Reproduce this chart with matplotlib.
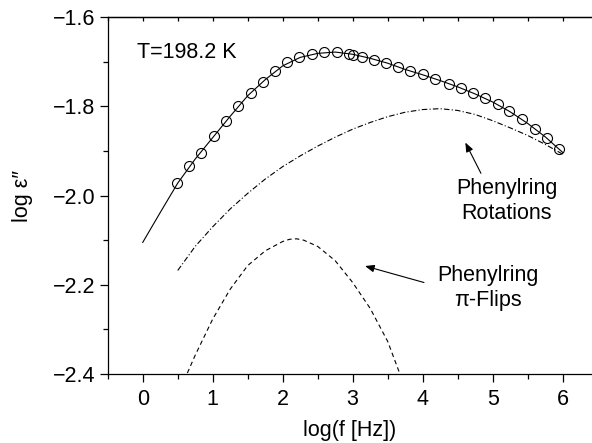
import matplotlib.pyplot as plt
from matplotlib.ticker import MultipleLocator

plt.rcParams['font.family'] = ['Liberation Sans', 'DejaVu Sans']

# measured points
logf_data = [0.486, 0.661, 0.834, 1.019, 1.186, 1.366, 1.543, 1.719, 1.890, 2.066,
             2.235, 2.419, 2.594, 2.776, 2.951, 3.000, 3.128, 3.309, 3.480, 3.652,
             3.823, 4.004, 4.180, 4.371, 4.543, 4.714, 4.894, 5.071, 5.237, 5.419,
             5.604, 5.771, 5.951]
eps_data = [-1.972, -1.933, -1.905, -1.867, -1.832, -1.799, -1.769, -1.746, -1.721, -1.701,
            -1.688, -1.682, -1.679, -1.679, -1.683, -1.685, -1.689, -1.695, -1.703, -1.712,
            -1.721, -1.728, -1.739, -1.749, -1.758, -1.770, -1.782, -1.795, -1.811, -1.828,
            -1.851, -1.871, -1.895]

# total fit
logf_fit = [0.0, 0.25, 0.5, 0.75, 1.0, 1.25, 1.5, 1.75, 2.0, 2.25, 2.5, 2.75, 3.0,
            3.25, 3.5, 3.75, 4.0, 4.25, 4.5, 4.75, 5.0, 5.25, 5.5, 5.75, 6.0]
eps_fit = [-2.105, -2.038, -1.972, -1.918, -1.870, -1.822, -1.776, -1.740, -1.709, -1.690,
           -1.681, -1.678, -1.683, -1.692, -1.703, -1.717, -1.729, -1.742, -1.756, -1.772,
           -1.790, -1.812, -1.838, -1.868, -1.903]

# phenylring rotations
logf_rot = [0.5, 0.75, 1.0, 1.25, 1.5, 1.75, 2.0, 2.25, 2.5, 2.75, 3.0, 3.25, 3.5,
            3.75, 4.0, 4.25, 4.5, 4.75, 5.0, 5.25, 5.5, 5.75, 6.0]
eps_rot = [-2.168, -2.114, -2.070, -2.030, -1.995, -1.963, -1.935, -1.911, -1.889, -1.869,
           -1.851, -1.836, -1.823, -1.813, -1.807, -1.805, -1.809, -1.818, -1.832, -1.848,
           -1.865, -1.885, -1.907]

# phenylring pi-flips
logf_flip = [0.638, 0.75, 1.0, 1.25, 1.5, 1.75, 2.0, 2.1, 2.2, 2.3, 2.5, 2.75, 3.0, 3.25, 3.5, 3.67]
eps_flip = [-2.398, -2.358, -2.277, -2.210, -2.157, -2.124, -2.103, -2.098, -2.097, -2.100,
            -2.114, -2.146, -2.195, -2.253, -2.327, -2.398]

fs = 15.5

fig = plt.figure(figsize=(5.92, 4.43), dpi=100)
ax = fig.add_axes([0.182, 0.156, 0.818, 0.805])

ax.plot(logf_fit, eps_fit, color='black', lw=0.8)
ax.plot(logf_rot, eps_rot, color='black', lw=0.8, dashes=(5, 2, 1, 2))
ax.plot(logf_flip, eps_flip, color='black', lw=0.8, dashes=(4, 3))
ax.plot(logf_data, eps_data, 'o', ms=7.2, mfc='none', mec='black', mew=0.8)

ax.set_xlim(-0.5, 6.42)
ax.set_ylim(-2.4, -1.6)
ax.xaxis.set_major_locator(MultipleLocator(1))
ax.xaxis.set_minor_locator(MultipleLocator(0.5))
ax.yaxis.set_major_locator(MultipleLocator(0.2))
ax.yaxis.set_minor_locator(MultipleLocator(0.1))
ax.yaxis.set_major_formatter(plt.FuncFormatter(lambda v, p: '\u2212%.1f' % abs(v) if v < 0 else '%.1f' % v))

ax.spines['right'].set_visible(False)
for s in ax.spines.values():
    s.set_linewidth(0.9)
ax.tick_params(which='both', direction='out', top=False, right=False, width=0.9, labelsize=fs)
ax.tick_params(which='major', length=6)
ax.tick_params(which='minor', length=3.5)
ax.tick_params(axis='x', pad=5)
ax.tick_params(axis='y', pad=3)

# inward ticks on the top spine
ax2 = ax.secondary_xaxis('top')
ax2.xaxis.set_major_locator(MultipleLocator(0.5))
ax2.tick_params(direction='in', length=3, width=0.9, labeltop=False)
ax2.spines['top'].set_linewidth(0.9)

ax.set_xlabel('log(f [Hz])', fontsize=fs, labelpad=7)
ax.set_ylabel('log \u03b5\u2033', fontsize=fs, labelpad=14)

ax.text(-0.08, -1.68, 'T=198.2 K', fontsize=fs, va='center', ha='left')

ax.annotate('', xy=(4.61, -1.881), xytext=(4.833, -1.950),
            arrowprops=dict(arrowstyle='-|>,head_length=0.5,head_width=0.2', color='black',
                            lw=0.8, mutation_scale=11, shrinkA=0, shrinkB=0))
ax.text(5.2, -2.012, 'Phenylring\nRotations', fontsize=fs, ha='center', va='center',
        linespacing=1.25)

ax.annotate('', xy=(3.176, -2.158), xytext=(4.019, -2.195),
            arrowprops=dict(arrowstyle='-|>,head_length=0.5,head_width=0.2', color='black',
                            lw=0.8, mutation_scale=11, shrinkA=0, shrinkB=0))
ax.text(4.93, -2.207, 'Phenylring\n\u03c0-Flips', fontsize=fs, ha='center', va='center',
        linespacing=1.25)

plt.savefig('out.png', dpi=100)
